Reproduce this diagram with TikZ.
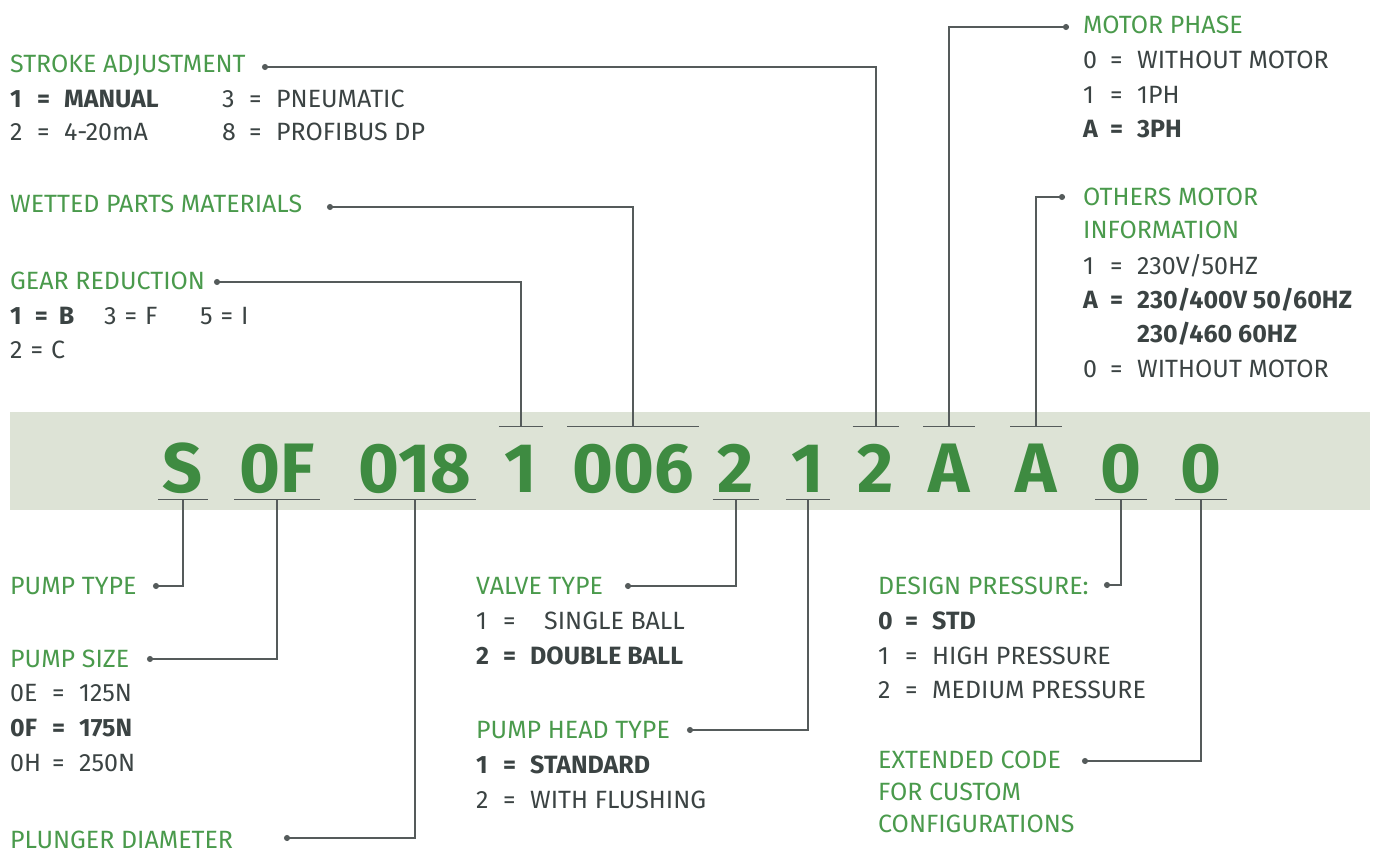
\documentclass[tikz,border=0pt]{standalone}
\usepackage{fontspec}
\setmainfont{Fira Sans}
\usetikzlibrary{arrows.meta}
\definecolor{codegreen}{HTML}{3E8B41}
\definecolor{headgreen}{HTML}{4A9A4C}
\definecolor{valgrey}{HTML}{3B4343}
\definecolor{leadgrey}{HTML}{555B5B}
\definecolor{bandgrey}{HTML}{DDE3D6}
\newcommand{\kv}[3][27pt]{\makebox[#1][l]{#2}\makebox[27pt][l]{=}#3}

\begin{document}
\begin{tikzpicture}[x=1pt, y=-1pt,
        head/.style={anchor=base west, inner sep=0pt, text=headgreen, font=\fontsize{25}{30}\selectfont},
        val/.style={anchor=base west, inner sep=0pt, text=valgrey, font=\fontsize{25}{30}\selectfont},
        bval/.style={val, font=\fontsize{25}{30}\selectfont\bfseries},
        code/.style={anchor=base, inner xsep=5pt, inner ysep=0pt, minimum width=44pt,
            text height=48pt, text depth=0pt, text=codegreen, font=\fontsize{70}{80}\selectfont\bfseries},
        tick/.style={draw=leadgrey, line width=1.3pt},
        lead/.style={draw=leadgrey, line width=1.3pt, {Circle[length=6pt]}-}]
    \useasboundingbox (0,0) rectangle (1376,853);
    \fill[bandgrey] (10,412) rectangle (1370,510);

    % code letters
    \node[code] (cS) at (183,492) {S};
    \node[code] (cOF) at (277,492) {0F};
    \node[code] (c018) at (415,492) {018};
    \node[code] (c1a) at (521,492) {1};
    \node[code] (c006) at (633,492) {006};
    \node[code] (c2a) at (736,492) {2};
    \node[code] (c1b) at (808,492) {1};
    \node[code] (c2b) at (876,492) {2};
    \node[code] (cAa) at (949,492) {A};
    \node[code] (cAb) at (1036,492) {A};
    \node[code] (c0a) at (1121,492) {0};
    \node[code] (c0b) at (1201,492) {0};

    \foreach \c in {c1a,c006,c2b,cAa,cAb}
        \draw[tick] ([yshift=17pt]\c.north west) -- ([yshift=17pt]\c.north east);
    \foreach \c in {cS,cOF,c018,c2a,c1b,c0a,c0b}
        \draw[tick] ([yshift=-7pt]\c.south west) -- ([yshift=-7pt]\c.south east);

    % upper left
    \node[head] (stroke) at (10,73) {STROKE ADJUSTMENT};
    \node[bval] (stroke1) at (10,108) {\kv{1}{MANUAL}};
    \node[val] (stroke3) at (222,108) {\kv{3}{PNEUMATIC}};
    \node[val] (stroke2) at (10,141) {\kv{2}{4-20mA}};
    \node[val] (stroke8) at (222,141) {\kv{8}{PROFIBUS DP}};
    \coordinate (strokedot) at (262,67);
    \draw[lead] (strokedot) -| ([yshift=17pt]c2b.north);

    \node[head] (wetted) at (10,213) {WETTED PARTS MATERIALS};
    \coordinate (wetteddot) at (327,207);
    \draw[lead] (wetteddot) -| ([yshift=17pt]c006.north);

    \node[head] (gear) at (10,289) {GEAR REDUCTION};
    \node[bval] (gear1) at (10,324) {1\hspace{13pt}=\hspace{11pt}B};
    \node[val] (gear3) at (104,324) {3\hspace{8pt}=\hspace{8pt}F};
    \node[val] (gear5) at (200,324) {5\hspace{8pt}=\hspace{8pt}I};
    \node[val] (gear2) at (10,358) {2\hspace{8pt}=\hspace{8pt}C};
    \coordinate (geardot) at (214,282);
    \draw[lead] (geardot) -| ([yshift=17pt]c1a.north);

    % upper right
    \node[head] (mphase) at (1083,34) {MOTOR PHASE};
    \node[val] (mphase0) at (1083,69) {\kv{0}{WITHOUT MOTOR}};
    \node[val] (mphase1) at (1083,104) {\kv{1}{1PH}};
    \node[bval] (mphaseA) at (1083,138) {\kv{A}{3PH}};
    \coordinate (mphasedot) at (1069,27);
    \draw[lead] (mphasedot) -| ([yshift=17pt]cAa.north);

    \node[head] (others) at (1083,206) {OTHERS MOTOR};
    \node[head] (othersb) at (1083,239) {INFORMATION};
    \node[val] (others1) at (1083,274) {\kv{1}{230V/50HZ}};
    \node[bval] (othersA) at (1083,308) {\kv{A}{230/400V 50/60HZ}};
    \node[bval] (othersAb) at (1137,342) {230/460 60HZ};
    \node[val] (others0) at (1083,377) {\kv{0}{WITHOUT MOTOR}};
    \coordinate (othersdot) at (1065,197);
    \draw[lead] (othersdot) -| ([yshift=17pt]cAb.north);

    % lower left
    \node[head] (ptype) at (10,594) {PUMP TYPE};
    \coordinate (ptypedot) at (153,586);
    \draw[lead] (ptypedot) -| ([yshift=-7pt]cS.south);

    \node[head] (psize) at (10,667) {PUMP SIZE};
    \node[val] (psizeE) at (10,701) {\kv[42pt]{0E}{125N}};
    \node[bval] (psizeF) at (10,736) {\kv[42pt]{0F}{175N}};
    \node[val] (psizeH) at (10,771) {\kv[42pt]{0H}{250N}};
    \coordinate (psizedot) at (147,659);
    \draw[lead] (psizedot) -| ([yshift=-7pt]cOF.south);

    \node[head] (plunger) at (10,848) {PLUNGER DIAMETER};
    \coordinate (plungerdot) at (284,838);
    \draw[lead] (plungerdot) -| ([yshift=-7pt]c018.south);

    % lower middle
    \node[head] (valve) at (476,594) {VALVE TYPE};
    \node[val] (valve1) at (476,629) {\kv{1}{\hspace{14pt}SINGLE BALL}};
    \node[bval] (valve2) at (476,664) {\kv{2}{DOUBLE BALL}};
    \coordinate (valvedot) at (625,586);
    \draw[lead] (valvedot) -| ([yshift=-7pt]c2a.south);

    \node[head] (phead) at (476,738) {PUMP HEAD TYPE};
    \node[bval] (phead1) at (476,773) {\kv{1}{STANDARD}};
    \node[val] (phead2) at (476,808) {\kv{2}{WITH FLUSHING}};
    \coordinate (pheaddot) at (687,730);
    \draw[lead] (pheaddot) -| ([yshift=-7pt]c1b.south);

    % lower right
    \node[head] (design) at (878,594) {DESIGN PRESSURE:};
    \node[bval] (design0) at (878,629) {\kv{0}{STD}};
    \node[val] (design1) at (878,664) {\kv{1}{HIGH PRESSURE}};
    \node[val] (design2) at (878,698) {\kv{2}{MEDIUM PRESSURE}};
    \coordinate (designdot) at (1104,585);
    \draw[lead] (designdot) -| ([yshift=-7pt]c0a.south);

    \node[head] (ext) at (878,768) {EXTENDED CODE};
    \node[head] (extb) at (878,800) {FOR CUSTOM};
    \node[head] (extc) at (878,832) {CONFIGURATIONS};
    \coordinate (extdot) at (1082,761);
    \draw[lead] (extdot) -| ([yshift=-7pt]c0b.south);
\end{tikzpicture}
\end{document}
